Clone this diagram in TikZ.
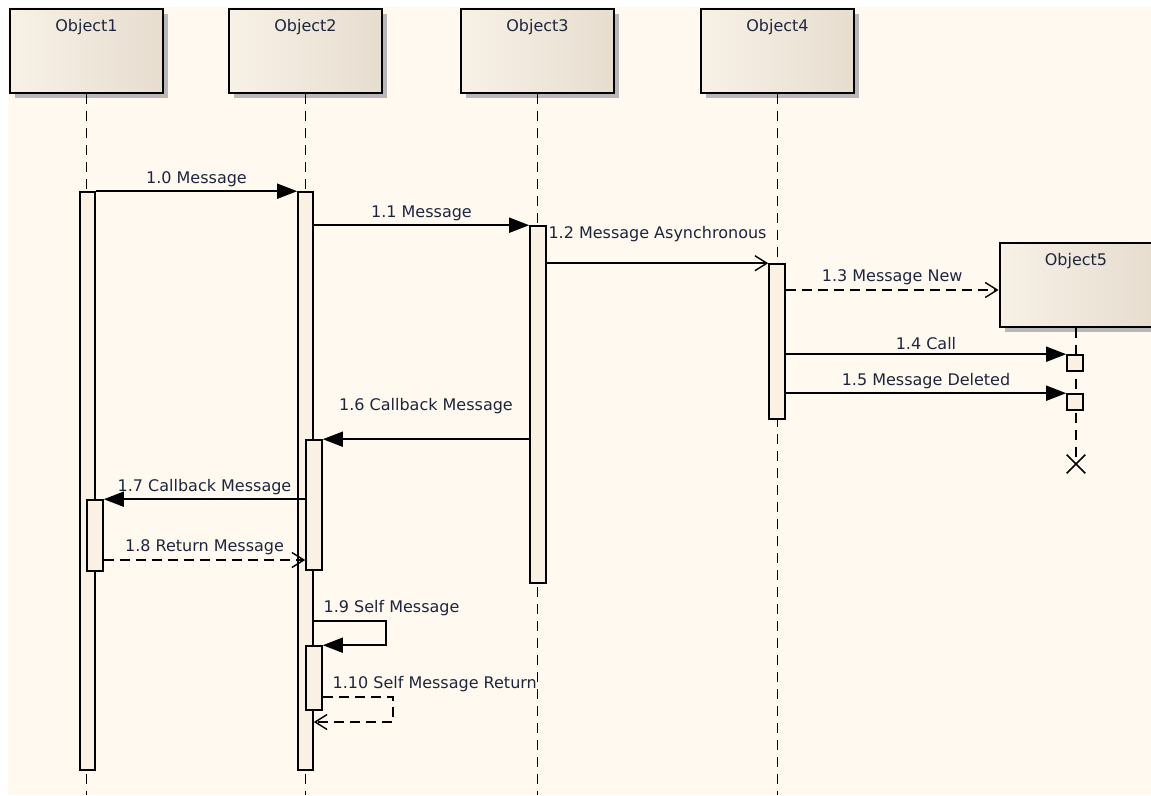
\documentclass[tikz,border=0pt]{standalone}
\usepackage{fontspec}
\setmainfont{DejaVu Sans}
\usepackage{xcolor}
\usetikzlibrary{arrows.meta, positioning, shapes.misc, shadows}

\definecolor{canvas}{RGB}{255,249,239}
\definecolor{objleft}{RGB}{248,241,230}
\definecolor{objright}{RGB}{230,221,207}
\definecolor{barfill}{RGB}{250,240,228}
\definecolor{lbltext}{RGB}{30,38,62}

\begin{document}
\begin{tikzpicture}[
    x=1pt, y=-1pt,
    obj/.style={draw, line width=2pt, minimum width=153pt, minimum height=84pt,
                inner sep=0, left color=objleft, right color=objright,
                drop shadow={shadow xshift=5pt, shadow yshift=-5pt, fill=black!28, opacity=1},
                label={[anchor=north, yshift=-8pt, font=\fontsize{16}{19}\selectfont, text=lbltext]north:#1}},
    bar/.style={draw, line width=1.6pt, fill=barfill, minimum width=15pt, inner sep=0},
    lifeline/.style={line width=1.7pt, dash pattern=on 10pt off 7pt},
    msgcall/.style={line width=1.7pt, -{Triangle[length=20pt,width=15pt]}},
    msgasync/.style={line width=1.7pt, -{Straight Barb[length=12pt,width=15pt,line width=1.4pt]}},
    msgreply/.style={msgasync, dash pattern=on 10pt off 6pt},
    lbl/.style={font=\fontsize{16}{19}\selectfont, text=lbltext, inner sep=1pt}
]
\useasboundingbox (0,0) rectangle (1151,795);
\fill[canvas] (8,7) rectangle (1151,795);

% objects
\node[obj=Object1] (o1) at (86.5,51) {};
\node[obj=Object2] (o2) at (305.5,51) {};
\node[obj=Object3] (o3) at (537.5,51) {};
\node[obj=Object4] (o4) at (777.5,51) {};
\node[obj=Object5] (o5) at (1076,284.5) {};

% lifelines
\coordinate (bottom) at (0,795);
\foreach \o in {o1,o2,o3,o4}
  \draw[lifeline] (\o.south) -- (\o.south |- bottom);
\node[draw, cross out, line width=1.6pt, minimum size=17pt, inner sep=0] (kill) at (1076,464) {};
\draw[lifeline] (o5.south) -- (kill.center);

% activations
\node[bar, minimum height=578pt] (b1)  at (87.5,481) {};
\node[bar, minimum height=578pt] (b2)  at (305.5,481) {};
\node[bar, minimum width=16pt, minimum height=357pt] (b3) at (538,404.5) {};
\node[bar, minimum width=16pt, minimum height=155pt] (b4) at (777,341.5) {};
\node[bar, minimum width=16pt, minimum height=130pt] (b2a) at (314,505) {};
\node[bar, minimum width=16pt, minimum height=71pt]  (b1a) at (95,535.5) {};
\node[bar, minimum width=16pt, minimum height=64pt]  (b2b) at (314,678) {};
\node[bar, minimum width=16pt, minimum height=16pt]  (s1)  at (1075,363) {};
\node[bar, minimum width=16pt, minimum height=16pt]  (s2)  at (1075,402) {};

% messages
\draw[msgcall] (b1.north east) -- node[lbl, above=3pt] {1.0 Message} (b2.north west);
\draw[msgcall] (b2.east |- b3.north west) -- node[lbl, above=3pt] {1.1 Message} (b3.north west);
\draw[msgasync] (b3.east |- b4.north west) -- node[lbl, above=20pt] {1.2 Message Asynchronous} (b4.north west);
\draw[msgreply] (b4.east |- 0,290) -- node[lbl, above=3pt] {1.3 Message New} (o5.west |- 0,290);
\draw[msgcall] (b4.east |- s1.north) -- node[lbl, above=3pt] {1.4 Call} (s1.north west);
\draw[msgcall] (b4.east |- s2.north) -- node[lbl, above=3pt] {1.5 Message Deleted} (s2.north west);
\draw[msgcall] (b3.west |- b2a.north) -- node[lbl, above=24pt] {1.6 Callback Message} (b2a.north east);
\draw[msgcall] (b2a.west |- b1a.north) -- node[lbl, above=3pt] {1.7 Callback Message} (b1a.north east);
\draw[msgreply] (b1a.east |- 0,560) -- node[lbl, above=3pt] {1.8 Return Message} (b2a.west |- 0,560);
\draw[msgcall] (b2.east |- 0,621)
    node[lbl, anchor=south west, xshift=8pt, yshift=3pt] {1.9 Self Message}
    -- ++(72,0) |- (b2b.north east);
\draw[msgreply] (b2b.east |- 0,697)
    node[lbl, anchor=south west, xshift=8pt, yshift=3pt] {1.10 Self Message Return}
    -- ++(70,0) |- (b2.east |- 0,722);
\end{tikzpicture}
\end{document}
